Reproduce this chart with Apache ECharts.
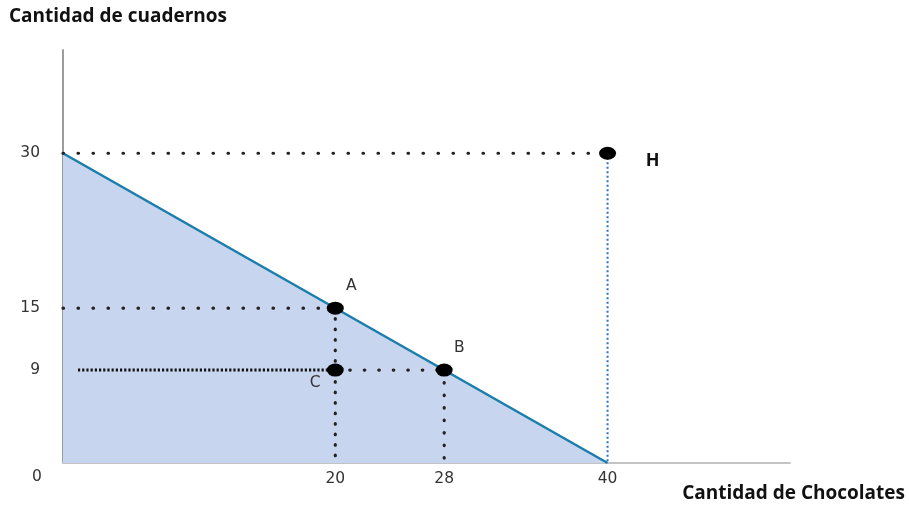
<!DOCTYPE html>
<html>
<head>
<meta charset="utf-8">
<script src="https://cdn.jsdelivr.net/npm/echarts@6/dist/echarts.min.js"></script>
<style>html,body{margin:0;padding:0;background:#fff}#c{width:909px;height:508px}</style>
</head>
<body>
<div id="c"></div>
<script>
// ---- data ----
const yAxisTitle = 'Cantidad de cuadernos';
const xAxisTitle = 'Cantidad de Chocolates';
const xTickValues = [20, 28, 40];
const yTickValues = [9, 15, 30];
const budgetLine = [[0, 30], [40, 0]];
const pointNames = ['A', 'B', 'C', 'H'];
const pointX = [20, 28, 20, 40];
const pointY = [15, 9, 9, 30];
// guide segments (dotted)
const guideH = [[0, 30], [40, 30]];
const guideHVert = [[40, 30], [40, 0]];
const guideA = [[0, 15], [20, 15]];
const guideAVert = [[20, 15], [20, 0]];
const guideCB = [[20, 9], [28, 9]];
const guideBVert = [[28, 9], [28, 0]];
const guideCLeft = [[1.1, 9], [20, 9]];

const chart = echarts.init(document.getElementById('c'));
const font = '"DejaVu Sans", sans-serif';
const titleFont = 'bold 19px "Open Sans", sans-serif';

function dotted(data, color, width, dash, cap) {
  return {
    type: 'line', data: data, symbol: 'none', silent: true, z: 3,
    lineStyle: { color: color, width: width, type: dash, cap: cap || 'round' }
  };
}

const labelPos = {
  A: { offset: [16, -22], fontWeight: 'normal', fontSize: 15.5 },
  B: { offset: [15, -22], fontWeight: 'normal', fontSize: 15.5 },
  C: { offset: [-20, 13], fontWeight: 'normal', fontSize: 15.5 },
  H: { offset: [45, 8], fontWeight: 'bold', fontSize: 18 }
};

chart.setOption({
  animation: false,
  grid: { left: 63, right: 119, top: 50, bottom: 45, outerBoundsMode: 'none' },
  xAxis: {
    type: 'value', min: 0, max: 53.4,
    splitLine: { show: false },
    axisLine: { show: true, lineStyle: { color: '#c4c4c4', width: 2 } },
    axisTick: { show: true, inside: true, length: 12, customValues: [20, 28], lineStyle: { color: '#8a8a8a', width: 1.5 } },
    axisLabel: { customValues: xTickValues, color: '#333', fontSize: 15.5, fontFamily: font, margin: 8 }
  },
  yAxis: {
    type: 'value', min: 0, max: 40,
    splitLine: { show: false },
    axisLine: { show: true, lineStyle: { color: '#9c9c9c', width: 2 } },
    axisTick: { show: true, inside: true, length: 22, customValues: [9, 15], lineStyle: { color: '#9c9c9c', width: 1.5 } },
    axisLabel: { customValues: yTickValues, color: '#333', fontSize: 15.5, fontFamily: font, margin: 23 }
  },
  graphic: [
    { type: 'text', left: 9, top: 7, style: { text: yAxisTitle, font: titleFont, fill: '#111' } },
    { type: 'text', right: 4, top: 484, style: { text: xAxisTitle, font: titleFont, fill: '#111' } },
    { type: 'text', left: 32, top: 469, style: { text: '0', font: '15.5px ' + font, fill: '#333' } }
  ],
  series: [
    {
      type: 'line', data: budgetLine, symbol: 'none', z: 2,
      lineStyle: { color: '#1a7dab', width: 2.5 },
      areaStyle: { color: '#c8d5ee', opacity: 1 }
    },
    dotted(guideH, '#222', 3.2, [0.5, 14.5]),
    dotted(guideHVert, '#2c6fc0', 2, [2, 2.5], 'butt'),
    dotted(guideA, '#222', 3.2, [0.5, 14.5]),
    dotted(guideAVert, '#222', 3.2, [0.5, 10]),
    dotted(guideCB, '#222', 3.2, [0.5, 14]),
    dotted(guideBVert, '#222', 3.2, [0.5, 12]),
    dotted(guideCLeft, '#111', 3, [2.2, 2], 'butt'),
    {
      type: 'scatter', z: 5,
      symbol: 'circle', symbolSize: [17, 13],
      itemStyle: { color: '#000', opacity: 1 },
      data: pointNames.map((n, i) => ({
        value: [pointX[i], pointY[i]], name: n,
        label: {
          show: true, formatter: n, position: 'inside',
          offset: labelPos[n].offset, color: n === 'H' ? '#111' : '#333',
          fontSize: labelPos[n].fontSize, fontWeight: labelPos[n].fontWeight,
          fontFamily: n === 'H' ? '"Open Sans", sans-serif' : font
        }
      }))
    }
  ]
});
</script>
</body>
</html>
